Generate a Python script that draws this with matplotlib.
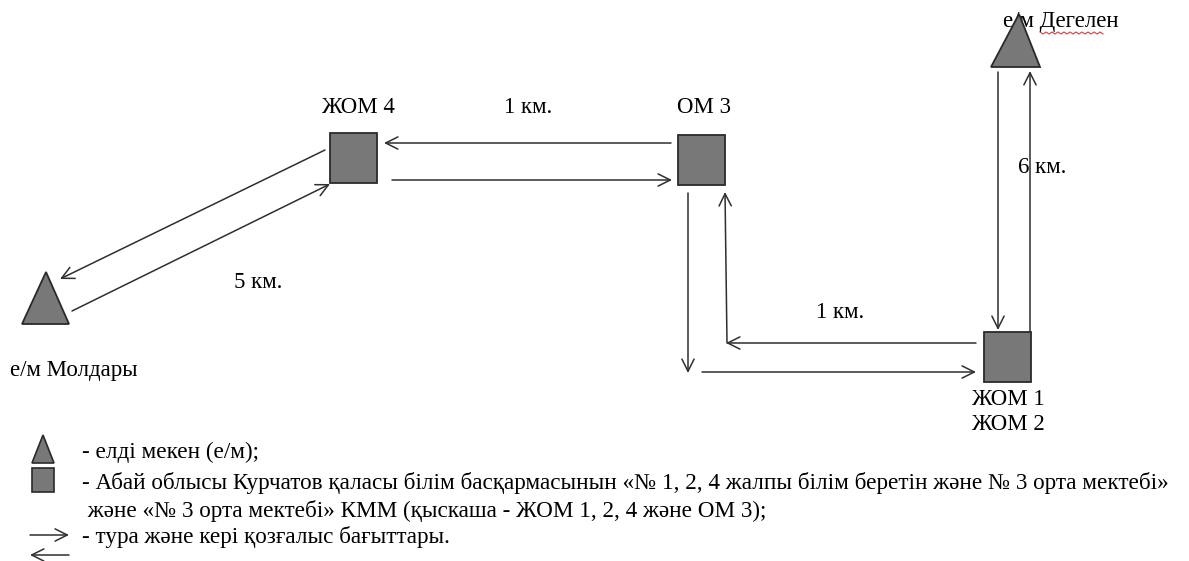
import matplotlib.pyplot as plt
import numpy as np
from matplotlib.patches import Rectangle, Polygon

plt.rcParams['font.family'] = ['Liberation Serif', 'DejaVu Serif']

# Объектілер (белгі, атауы)
schools = ['ЖОМ 4', 'ОМ 3', 'ЖОМ 1\nЖОМ 2']
villages = ['е/м Молдары', 'е/м Дегелен']
distances = ['5 км.', '1 км.', '1 км.', '6 км.']
legend_texts = ['- елді мекен (е/м);',
                '- Абай облысы Курчатов қаласы білім басқармасынын «№ 1, 2, 4 жалпы білім беретін және № 3 орта мектебі»',
                ' және «№ 3 орта мектебі» КММ (қыскаша - ЖОМ 1, 2, 4 және ОМ 3);',
                '- тура және кері қозғалыс бағыттары.']

# layout in pixel coords (y down)
sq_pos = {'ЖОМ 4': (330, 133), 'ОМ 3': (678, 135), 'ЖОМ 1\nЖОМ 2': (984, 332)}
sq_size = (47, 50)
sq_label_pos = {'ЖОМ 4': (358, 107, 'center'), 'ОМ 3': (704, 107, 'center'),
                'ЖОМ 1\nЖОМ 2': (1008, 412, 'center')}
tri_pos = {'е/м Молдары': [(22, 324), (46, 272), (69, 324)],
           'е/м Дегелен': [(991, 67), (1019, 14), (1040, 67)]}
tri_label_pos = {'е/м Молдары': (10, 370), 'е/м Дегелен': (1003, 21)}
dist_pos = [(258, 282), (528, 107), (840, 312), (1042, 167)]

# (start, end) of each arrow
arrows = [((325, 150), (60, 279)), ((72, 311), (330, 184)),
          ((671, 143), (384, 143)), ((392, 180), (672, 180)),
          ((688, 193), (688, 373)), ((727, 343), (725, 192)),
          ((976, 343), (726, 343)), ((702, 372), (976, 372)),
          ((998, 72), (998, 330)), ((1030, 332), (1030, 71))]

face = '#787878'
edge = '#2a2a2a'
lc = '#2f2f2f'
fs = 16.5
ms = 22

fig = plt.figure(figsize=(11.89, 5.61), dpi=100)
ax = fig.add_axes([0, 0, 1, 1])
ax.set_xlim(0, 1189)
ax.set_ylim(561, 0)
ax.axis('off')

for name in schools:
    x, y = sq_pos[name]
    ax.add_patch(Rectangle((x, y), *sq_size, facecolor=face, edgecolor=edge, lw=1.3, zorder=3))
    lx, ly, ha = sq_label_pos[name]
    ax.text(lx, ly, name, fontsize=fs, ha=ha, va='center', linespacing=1.3, zorder=2)

for name in villages:
    ax.add_patch(Polygon(tri_pos[name], closed=True, facecolor=face, edgecolor=edge, lw=1.3, zorder=3))
    lx, ly = tri_label_pos[name]
    ax.text(lx, ly, name, fontsize=fs, ha='left', va='center', zorder=2)

# red spell-check underline under Дегелен
zx = np.arange(1040, 1106, 3)
zy = 32 + np.where(np.arange(len(zx)) % 2 == 0, 0, 2)
ax.plot(zx, zy, color='#d04040', lw=0.8, zorder=1)

for txt, (x, y) in zip(distances, dist_pos):
    ax.text(x, y, txt, fontsize=fs, ha='center', va='center', zorder=2)

for (x0, y0), (x1, y1) in arrows:
    ax.annotate('', xy=(x1, y1), xytext=(x0, y0),
                arrowprops=dict(arrowstyle='->', lw=1.1, color=lc,
                                shrinkA=0, shrinkB=0, mutation_scale=ms))

# legend
ax.add_patch(Polygon([(32, 463), (43, 435), (54, 463)], closed=True,
                     facecolor=face, edgecolor=edge, lw=1.2))
ax.add_patch(Rectangle((32, 468), 22, 24, facecolor=face, edgecolor=edge, lw=1.2))
ax.annotate('', xy=(69, 535), xytext=(30, 535),
            arrowprops=dict(arrowstyle='->', lw=1.1, color=lc, shrinkA=0, shrinkB=0, mutation_scale=ms))
ax.annotate('', xy=(30, 555), xytext=(69, 555),
            arrowprops=dict(arrowstyle='->', lw=1.1, color=lc, shrinkA=0, shrinkB=0, mutation_scale=ms))
leg_y = [452, 483, 511, 537]
for txt, y in zip(legend_texts, leg_y):
    ax.text(82, y, txt, fontsize=16.7, ha='left', va='center')

fig.savefig('out.png', dpi=100)
